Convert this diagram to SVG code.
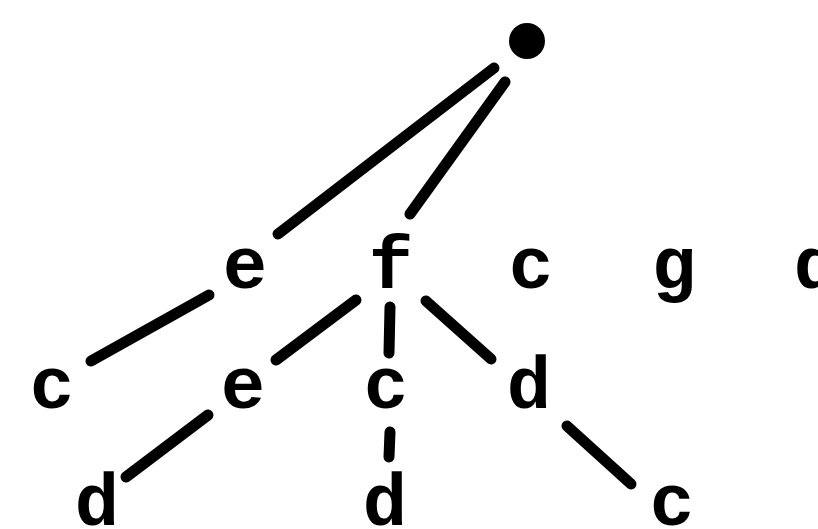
<svg xmlns="http://www.w3.org/2000/svg" width="818" height="529" viewBox="0 0 818 529">
<style>
.lbl{font-family:"Liberation Mono","DejaVu Sans Mono",monospace;font-weight:bold;font-size:74px;fill:#000;text-anchor:middle}
.edge{stroke:#000;stroke-width:11;stroke-linecap:round;fill:none}
</style>
<rect width="818" height="529" fill="#fff"/>
<g id="connectors">
<line class="edge" x1="494" y1="68" x2="278" y2="234"/>
<line class="edge" x1="505" y1="82" x2="410" y2="214"/>
<line class="edge" x1="209" y1="295" x2="91" y2="361"/>
<line class="edge" x1="356" y1="300" x2="276" y2="360"/>
<line class="edge" x1="390" y1="307" x2="389" y2="353"/>
<line class="edge" x1="426" y1="301" x2="491" y2="359"/>
<line class="edge" x1="208" y1="415" x2="126" y2="477"/>
<line class="edge" x1="390" y1="432" x2="389" y2="457"/>
<line class="edge" x1="567" y1="426" x2="631" y2="484"/>
</g>
<g id="root"><circle cx="527" cy="41" r="18" fill="#000"/></g>
<g id="n-e1"><text class="lbl" x="245" y="288">e</text></g>
<g id="n-f1"><text class="lbl" x="391" y="288">f</text></g>
<g id="n-c1"><text class="lbl" x="531" y="288">c</text></g>
<g id="n-g1"><text class="lbl" x="674" y="288">g</text></g>
<g id="n-d1"><text class="lbl" x="816" y="288">d</text></g>
<g id="n-c2"><text class="lbl" x="52" y="408">c</text></g>
<g id="n-e2"><text class="lbl" x="243" y="408">e</text></g>
<g id="n-c3"><text class="lbl" x="386" y="408">c</text></g>
<g id="n-d2"><text class="lbl" x="529" y="408">d</text></g>
<g id="n-d3"><text class="lbl" x="97" y="525">d</text></g>
<g id="n-d4"><text class="lbl" x="385" y="525">d</text></g>
<g id="n-c4"><text class="lbl" x="672" y="525">c</text></g>
</svg>
